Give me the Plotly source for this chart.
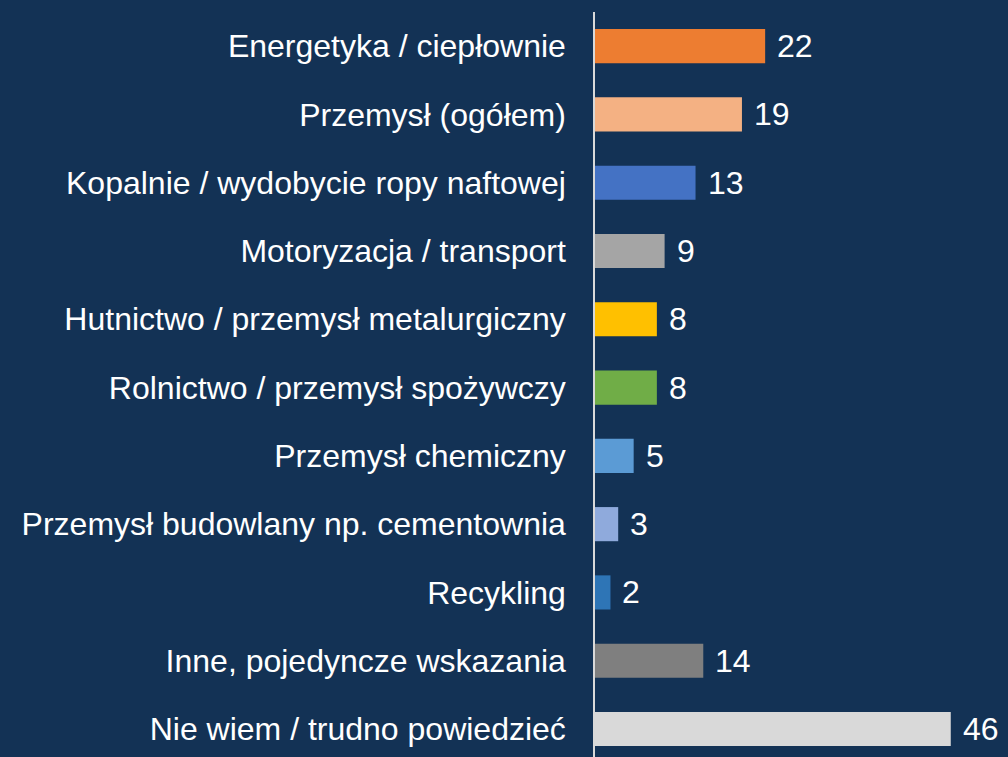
import plotly.graph_objects as go

categories = [
    "Energetyka / ciepłownie",
    "Przemysł (ogółem)",
    "Kopalnie / wydobycie ropy naftowej",
    "Motoryzacja / transport",
    "Hutnictwo / przemysł metalurgiczny",
    "Rolnictwo / przemysł spożywczy",
    "Przemysł chemiczny",
    "Przemysł budowlany np. cementownia",
    "Recykling",
    "Inne, pojedyncze wskazania",
    "Nie wiem / trudno powiedzieć",
]
values = [22, 19, 13, 9, 8, 8, 5, 3, 2, 14, 46]
colors = ["#ED7D31", "#F4B183", "#4472C4", "#A5A5A5", "#FFC000", "#70AD47",
          "#5B9BD5", "#8FAADC", "#2E75B6", "#7F7F7F", "#D9D9D9"]

BG = "#133255"
FONT = "Liberation Sans, Arial, sans-serif"
FS = 32

fig = go.Figure(go.Bar(
    x=values, y=categories, orientation="h",
    marker=dict(color=colors, line=dict(width=0)),
    width=0.5, hoverinfo="skip",
))

for c, v in zip(categories, values):
    fig.add_annotation(x=v, y=c, text=str(v), showarrow=False,
                       xanchor="left", xshift=10,
                       font=dict(family=FONT, size=FS, color="white"))

fig.update_layout(
    width=1008, height=757,
    margin=dict(l=595, r=0, t=12, b=0),
    paper_bgcolor=BG, plot_bgcolor=BG,
    showlegend=False,
    font=dict(family=FONT, size=FS, color="white"),
    xaxis=dict(range=[0, 53.4], visible=False, showgrid=False, zeroline=False),
    yaxis=dict(range=[10.41, -0.5], showgrid=False, zeroline=False,
               showline=True, linecolor="#D9D9D9", linewidth=1.5,
               ticks="", ticklabelstandoff=21,
               tickfont=dict(family=FONT, size=FS, color="white")),
)

fig.write_html("out.html", config={"displayModeBar": False},
               post_script="document.body.style.margin='0';document.body.style.background='" + BG + "';")
